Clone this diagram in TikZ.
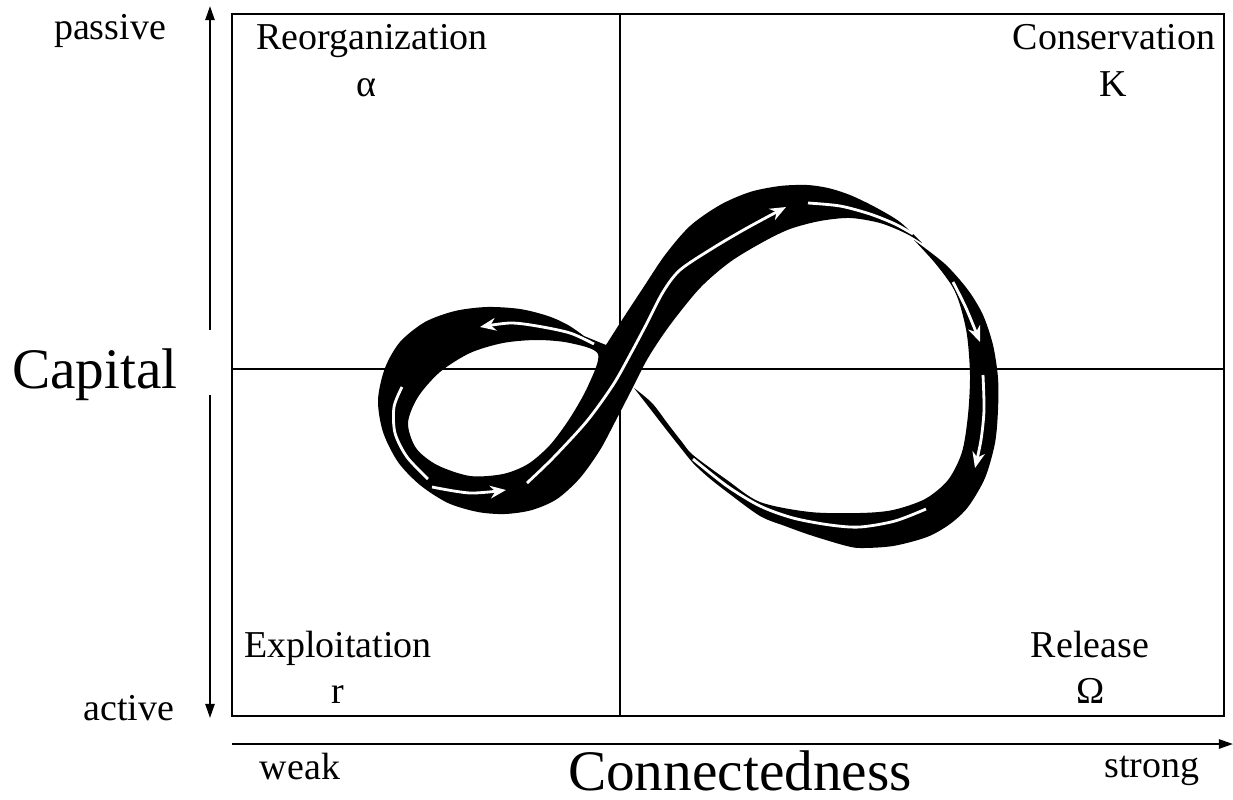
\documentclass[tikz,border=0pt]{standalone}
\usepackage{fontspec}
\setmainfont{Liberation Serif}
\usetikzlibrary{arrows.meta}

\begin{document}
\begin{tikzpicture}[x=0.01cm, y=-0.01cm,
  every node/.style={inner sep=0pt, anchor=base},
  small/.style={font=\fontsize{10.8}{13}\selectfont},
  big/.style={font=\fontsize{16.3}{19}\selectfont},
  frame/.style={line width=0.6pt},
  axis/.style={line width=0.6pt, -{Triangle[length=4pt,width=2.6pt]}},
  band/.style={fill=black},
  flow/.style={draw=white, line width=0.8pt},
  flowtip/.style={flow, -{Stealth[length=4.5pt,width=3.6pt]}}]
  \useasboundingbox (0,0) rectangle (1233,800);

  % quadrants
  \draw[frame] (232,14) rectangle (1224,716);
  \draw[frame] (620,14) -- (620,716);
  \draw[frame] (232,369) -- (1224,369);

  \node[small] (reorg) at (372,50) {Reorganization};
  \node[small] (alpha) at (366,96) {α};
  \node[small] (cons) at (1114,50) {Conservation};
  \node[small] (kay) at (1113,96) {K};
  \node[small] (expl) at (338,657) {Exploitation};
  \node[small] (rr) at (338,703) {r};
  \node[small] (rel) at (1090,657) {Release};
  \node[small] (omega) at (1091,703) {Ω};

  % axes
  \node[big] (capital) at (95,388) {Capital};
  \node[small] (passive) at (110,39) {passive};
  \node[small] (active) at (129,720) {active};
  \coordinate (capTop) at (210,6);
  \coordinate (capUp) at (210,330);
  \coordinate (capDown) at (210,395);
  \coordinate (capBot) at (210,718);
  \draw[axis] (capUp) -- (capTop);
  \draw[axis] (capDown) -- (capBot);

  \node[big] (conn) at (740,790) {Connectedness};
  \node[small] (weak) at (300,779) {weak};
  \node[small] (strong) at (1152,777) {strong};
  \coordinate (conLeft) at (232,744);
  \coordinate (conRight) at (1233,744);
  \draw[axis] (conLeft) -- (conRight);

  % left lobe, rising sweep and top of the loop
  \fill[band, even odd rule]
    plot[smooth] coordinates {(584,336) (568,325) (548,316) (520,309) (487,307)
      (455,311) (425,322) (400,342) (385,368) (378,400) (383,432) (398,462)
      (420,485) (448,503) (478,512) (505,514) (532,510) (557,499) (580,478)
      (600,450) (615,422) (631,391) (648,358) (670,325) (700,288) (730,262)
      (763,242) (790,229) (820,221) (850,218) (880,223) (905,233) (922,243)}
    -- plot[smooth] coordinates {(922,243) (900,222) (875,207) (850,195)
      (828,188) (807,185) (780,186) (750,192) (720,205) (690,226) (665,255)
      (643,288) (622,320) (606,345)}
    -- cycle
    plot[smooth cycle] coordinates {(598,354) (570,343) (537,340) (503,343)
      (470,353) (440,372) (418,397) (408,423) (416,448) (437,465) (470,476)
      (503,474) (528,464) (550,445) (570,418) (588,386)};

  % right side and falling return
  \fill[band]
    plot[smooth] coordinates {(914,240) (945,264) (968,290) (983,315) (993,345)
      (998,378) (998,410) (995,443) (985,478) (968,507) (950,524) (927,537)
      (893,546) (860,548) (843,545) (810,535) (785,526) (760,516) (727,492)
      (708,477) (693,463) (680,447) (665,428) (648,406) (634,388)}
    -- plot[smooth] coordinates {(634,388) (652,403) (668,424) (682,442)
      (693,455) (727,480) (760,502) (810,512) (860,513) (893,510) (925,499)
      (948,480) (962,452) (968,415) (970,375) (967,335) (960,305) (952,286)
      (935,263) (914,240)}
    -- cycle;

  % flow arrows
  \draw[flowtip] plot[smooth] coordinates {(432,487) (470,493) (506,490)};
  \draw[flowtip] plot[smooth] coordinates {(527,483) (553,458) (587,421)
    (613,385) (630,355) (647,323) (663,292) (680,270) (713,248) (747,228)
    (786,207)};
  \draw[flow] plot[smooth] coordinates {(808,203) (840,206) (870,214)
    (895,224) (913,234)};
  \draw[flowtip] plot[smooth] coordinates {(953,282) (966,308) (980,342)};
  \draw[flowtip] plot[smooth] coordinates {(983,375) (984,410) (981,440)
    (975,468)};
  \draw[flow] plot[smooth] coordinates {(693,459) (727,486) (760,506)
    (793,518) (830,525) (860,527) (895,521) (926,509)};
  \draw[flowtip] plot[smooth] coordinates {(594,344) (570,333) (537,326)
    (510,323) (480,327)};
  \draw[flow] plot[smooth] coordinates {(402,387) (394,407) (395,433)
    (407,457) (428,479)};
\end{tikzpicture}
\end{document}
